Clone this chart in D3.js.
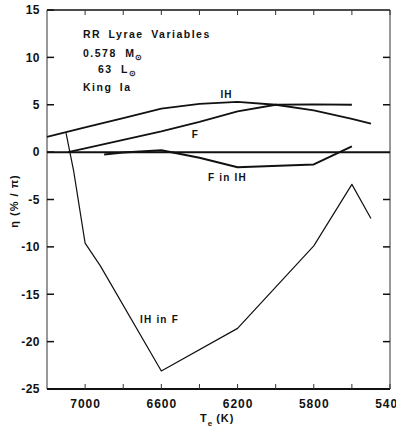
<!DOCTYPE html>
<html><head><meta charset="utf-8">
<script src="https://cdn.jsdelivr.net/npm/d3@7"></script>
<style>
body{margin:0;background:#fff;}
svg text{font-family:"Liberation Sans",Arial,sans-serif;font-weight:bold;fill:#111;}
</style></head>
<body><svg id="c" width="396" height="439"></svg>
<script>
// Data
const ihTemp   = [7200, 7000, 6800, 6600, 6400, 6200, 6000, 5800, 5600, 5500];
const ihEta    = [1.6, 2.6, 3.6, 4.6, 5.1, 5.3, 5.0, 4.4, 3.5, 3.0];
const fTemp    = [7090, 7000, 6800, 6600, 6400, 6200, 6000, 5800, 5600];
const fEta     = [0, 0.4, 1.3, 2.2, 3.2, 4.3, 5.0, 5.05, 5.0];
const fInIhTemp = [6900, 6800, 6600, 6400, 6200, 5800, 5600];
const fInIhEta  = [-0.25, -0.05, 0.2, -0.6, -1.6, -1.3, 0.6];
const ihInFTemp = [7100, 7080, 7060, 7000, 6920, 6600, 6200, 5800, 5600, 5500];
const ihInFEta  = [2.0, 0, -2.0, -9.6, -12.0, -23.1, -18.6, -9.9, -3.4, -7.0];
const xTickLabels = [7000, 6600, 6200, 5800, 5400];
const yTickLabels = [15, 10, 5, 0, -5, -10, -15, -20, -25];

const svg = d3.select("#c");
const L = 47, R = 390, T = 10, B = 389;
const x = d3.scaleLinear().domain([7200, 5400]).range([L, R]);
const y = d3.scaleLinear().domain([-25, 15]).range([B, T]);

// frame
svg.append("line").attr("x1", L).attr("x2", L).attr("y1", T).attr("y2", B).attr("stroke", "#333").attr("stroke-width", 1);
svg.append("line").attr("x1", R).attr("x2", R).attr("y1", T).attr("y2", B).attr("stroke", "#333").attr("stroke-width", 1);
svg.append("line").attr("x1", L).attr("x2", R).attr("y1", T).attr("y2", T).attr("stroke", "#111").attr("stroke-width", 1.5);
svg.append("line").attr("x1", L).attr("x2", R).attr("y1", B).attr("y2", B).attr("stroke", "#111").attr("stroke-width", 2);
// zero line
svg.append("line").attr("x1", L).attr("x2", R).attr("y1", y(0)).attr("y2", y(0)).attr("stroke", "#111").attr("stroke-width", 2);

// bottom axis (ticks inward)
const minor = d3.range(7000, 5399, -200);
const bx = d3.axisBottom(x).tickValues(xTickLabels).tickSize(0).tickPadding(10).tickFormat(d3.format("d"));
const gb = svg.append("g").attr("transform", `translate(0,${B})`).call(bx);
gb.select(".domain").remove();
gb.selectAll("text").attr("font-size", 12).attr("letter-spacing", 1).attr("dy", "0.71em");
svg.append("g").selectAll("line").data(minor).join("line")
  .attr("x1", d => x(d)).attr("x2", d => x(d)).attr("y1", B).attr("y2", B - 5).attr("stroke", "#333");
svg.append("g").selectAll("line").data(minor).join("line")
  .attr("x1", d => x(d)).attr("x2", d => x(d)).attr("y1", T).attr("y2", T + 5).attr("stroke", "#333");

// left axis
const ly = d3.axisLeft(y).tickValues(yTickLabels).tickSize(0).tickPadding(7).tickFormat(d => d < 0 ? "-" + Math.abs(d) : d);
const gl = svg.append("g").attr("transform", `translate(${L},0)`).call(ly);
gl.select(".domain").remove();
gl.selectAll("text").attr("font-size", 12).attr("letter-spacing", 0.5);
svg.append("g").selectAll("line").data(yTickLabels).join("line")
  .attr("x1", L).attr("x2", L + 7).attr("y1", d => y(d)).attr("y2", d => y(d)).attr("stroke", "#111").attr("stroke-width", 1.5);
svg.append("g").selectAll("line").data(yTickLabels.filter(d => d !== 15 && d !== -25 && d !== 0)).join("line")
  .attr("x1", R).attr("x2", R - 7).attr("y1", d => y(d)).attr("y2", d => y(d)).attr("stroke", "#111").attr("stroke-width", 1.5);

// series
const line = d3.line().x(d => x(d[0])).y(d => y(d[1]));
function draw(t, v, w) {
  svg.append("path").datum(d3.zip(t, v)).attr("d", line)
    .attr("fill", "none").attr("stroke", "#111").attr("stroke-width", w).attr("stroke-linejoin", "round");
}
draw(ihTemp, ihEta, 1.8);
draw(fTemp, fEta, 1.8);
draw(fInIhTemp, fInIhEta, 2);
draw(ihInFTemp, ihInFEta, 1.2);

// labels
function lab(tx, px, py, fs) {
  return svg.append("text").attr("x", px).attr("y", py).attr("font-size", fs).attr("letter-spacing", 1.2).text(tx);
}
lab("IH", x(6290), y(5.7), 10);
lab("F", x(6440), y(1.5), 10);
lab("F in IH", x(6980 - 840), y(-3.1), 10).attr("x", 208);
lab("IH in F", 140, 323, 10);

// legend text
const t1 = svg.append("text").attr("x", 83).attr("y", 38).attr("font-size", 10.5).attr("letter-spacing", 1.5).attr("word-spacing", 3).text("RR Lyrae Variables");
const t2 = svg.append("text").attr("x", 83).attr("y", 57).attr("font-size", 10.5).attr("letter-spacing", 1.5).attr("word-spacing", 4);
t2.append("tspan").text("0.578 M");
t2.append("tspan").attr("dy", 3).attr("font-size", 8).attr("letter-spacing", 0).text("⊙");
const t3 = svg.append("text").attr("x", 98).attr("y", 73).attr("font-size", 10.5).attr("letter-spacing", 1.5).attr("word-spacing", 4);
t3.append("tspan").text("63 L");
t3.append("tspan").attr("dy", 3).attr("font-size", 8).attr("letter-spacing", 0).text("⊙");
svg.append("text").attr("x", 83).attr("y", 91).attr("font-size", 10.5).attr("letter-spacing", 1.5).attr("word-spacing", 3).text("King Ia");

// axis titles
const xt = svg.append("text").attr("x", 200).attr("y", 422).attr("font-size", 11).attr("letter-spacing", 1);
xt.append("tspan").text("T");
xt.append("tspan").attr("dy", 4).attr("font-size", 8).text("e");
xt.append("tspan").attr("dy", -4).attr("dx", 3).text("(K)");

svg.append("text").attr("transform", "translate(18,201) rotate(-90)").attr("text-anchor", "middle")
  .attr("font-size", 11).attr("letter-spacing", 1).text("η (% / π)");
</script></body></html>
